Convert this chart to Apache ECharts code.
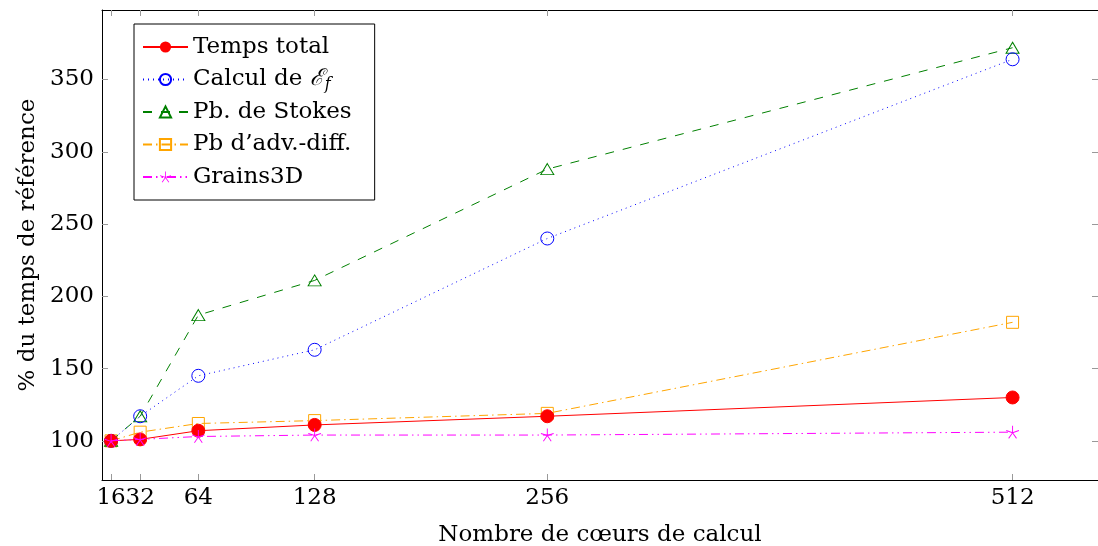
<!DOCTYPE html>
<html>
<head>
<meta charset="utf-8">
<script src="https://cdn.jsdelivr.net/npm/echarts@6/dist/echarts.min.js"></script>
<style>
  html, body { margin: 0; padding: 0; background: #fff; }
  #chart { width: 1098px; height: 546px; }
</style>
</head>
<body>
<div id="chart"></div>
<script>
  var coeurs = [16, 32, 64, 128, 256, 512];
  var tempsTotal = [100, 101, 107, 111, 117, 130];
  var calculEf = [100, 117, 145, 163, 240, 364];
  var stokes = [100, 117, 187, 211, 288, 372];
  var advDiff = [100, 106, 112, 114, 119, 182];
  var grains3d = [100, 101, 103, 104, 104, 106];
  var yTicks = [100, 150, 200, 250, 300, 350];

  function pairs(vals) {
    return coeurs.map(function (c, i) { return [c, vals[i]]; });
  }

  // asterisque a 5 branches (marque "star" de pgfplots)
  function starPath() {
    var p = '';
    for (var k = 0; k < 5; k++) {
      var a = (90 + 72 * k) * Math.PI / 180;
      var cx = Math.cos(a), cy = -Math.sin(a);
      var nx = -cy * 0.7, ny = cx * 0.7;
      var ex = cx * 10, ey = cy * 10;
      p += 'M' + nx.toFixed(2) + ',' + ny.toFixed(2) +
        'L' + (ex + nx).toFixed(2) + ',' + (ey + ny).toFixed(2) +
        'L' + (ex - nx).toFixed(2) + ',' + (ey - ny).toFixed(2) +
        'L' + (-nx).toFixed(2) + ',' + (-ny).toFixed(2) + 'Z';
    }
    return 'path://' + p;
  }

  var serif = 'DejaVu Serif';
  var fs = 23;
  var tickGray = '#999';
  var chart = echarts.init(document.getElementById('chart'));

  var hollow = function (c) {
    return { color: 'rgba(255,255,255,0)', borderColor: c, borderWidth: 1 };
  };

  var option = {
    animation: false,
    textStyle: { fontFamily: serif },
    grid: { left: 102, top: 10, right: 0, bottom: 66, containLabel: false, outerBoundsMode: 'none' },
    legend: {
      orient: 'vertical',
      left: 134,
      top: 24,
      itemWidth: 45,
      itemHeight: 14,
      itemGap: 6.5,
      borderColor: '#000',
      borderWidth: 1,
      borderRadius: 0,
      padding: [10, 23, 10, 8],
      textStyle: {
        fontFamily: serif, fontSize: fs, color: '#000', lineHeight: 26,
        rich: {
          e: { fontFamily: serif, fontStyle: 'italic', fontSize: fs, color: '#000' },
          s: { fontFamily: serif, fontStyle: 'italic', fontSize: 16, color: '#000', verticalAlign: 'bottom', padding: [9, 0, 0, 1] }
        }
      },
      formatter: function (name) {
        if (name === 'Calcul de Ef') return 'Calcul de {e|ℰ}{s|f}';
        return name;
      },
      data: ['Temps total', 'Calcul de Ef', 'Pb. de Stokes', "Pb d\u2019adv.-diff.", 'Grains3D']
    },
    xAxis: [{
      type: 'value',
      min: 11,
      max: 559,
      name: 'Nombre de cœurs de calcul',
      nameLocation: 'middle',
      nameGap: 44,
      nameTextStyle: { fontFamily: serif, fontSize: fs, color: '#000' },
      axisLine: { show: true, onZero: false, lineStyle: { color: '#000', width: 1 } },
      axisTick: { show: true, inside: true, length: 6, lineStyle: { color: tickGray }, customValues: coeurs },
      axisLabel: { fontFamily: serif, fontSize: fs, color: '#000', margin: 7, customValues: coeurs, hideOverlap: false },
      splitLine: { show: false }
    }, {
      type: 'value',
      position: 'top',
      min: 11,
      max: 559,
      axisLine: { show: true, onZero: false, lineStyle: { color: '#000', width: 1 } },
      axisTick: { show: true, inside: true, length: 6, lineStyle: { color: tickGray }, customValues: coeurs },
      axisLabel: { show: false },
      splitLine: { show: false }
    }],
    yAxis: [{
      type: 'value',
      min: 72.9,
      max: 398.1,
      name: '% du temps de référence',
      nameLocation: 'middle',
      nameGap: 62,
      nameTextStyle: { fontFamily: serif, fontSize: fs, color: '#000' },
      axisLine: { show: true, onZero: false, lineStyle: { color: '#000', width: 1 } },
      axisTick: { show: true, inside: true, length: 6, lineStyle: { color: tickGray }, customValues: yTicks },
      axisLabel: { fontFamily: serif, fontSize: fs, color: '#000', margin: 8, customValues: yTicks },
      splitLine: { show: false }
    }, {
      type: 'value',
      position: 'right',
      min: 72.9,
      max: 398.1,
      axisLine: { show: true, onZero: false, lineStyle: { color: '#000', width: 1 } },
      axisTick: { show: true, inside: true, length: 6, lineStyle: { color: tickGray }, customValues: yTicks },
      axisLabel: { show: false },
      splitLine: { show: false }
    }],
    series: [
      {
        name: 'Temps total', type: 'line', data: pairs(tempsTotal),
        symbol: 'circle', symbolSize: 13, z: 5,
        lineStyle: { color: '#ff0000', width: 1 },
        itemStyle: { color: '#ff0000', borderColor: '#ff0000' }
      },
      {
        name: 'Calcul de Ef', type: 'line', data: pairs(calculEf),
        symbol: 'circle', symbolSize: 13, z: 4,
        lineStyle: { color: '#0000ff', width: 1, type: [1, 4] },
        itemStyle: hollow('#0000ff')
      },
      {
        name: 'Pb. de Stokes', type: 'line', data: pairs(stokes),
        symbol: 'triangle', symbolSize: [13, 11], z: 3,
        lineStyle: { color: '#008000', width: 1, type: [9, 9] },
        itemStyle: hollow('#008000')
      },
      {
        name: "Pb d\u2019adv.-diff.", type: 'line', data: pairs(advDiff),
        symbol: 'rect', symbolSize: 12, z: 2,
        lineStyle: { color: '#ffa500', width: 1, type: [9, 4, 1.5, 4] },
        itemStyle: hollow('#ffa500')
      },
      {
        name: 'Grains3D', type: 'line', data: pairs(grains3d),
        symbol: starPath(), symbolSize: 13, z: 6,
        lineStyle: { color: '#ff00ff', width: 1, type: [9, 4, 1.5, 4, 1.5, 4] },
        itemStyle: { color: '#ff00ff', borderWidth: 0 }
      }
    ]
  };

  chart.setOption(option);
</script>
</body>
</html>
